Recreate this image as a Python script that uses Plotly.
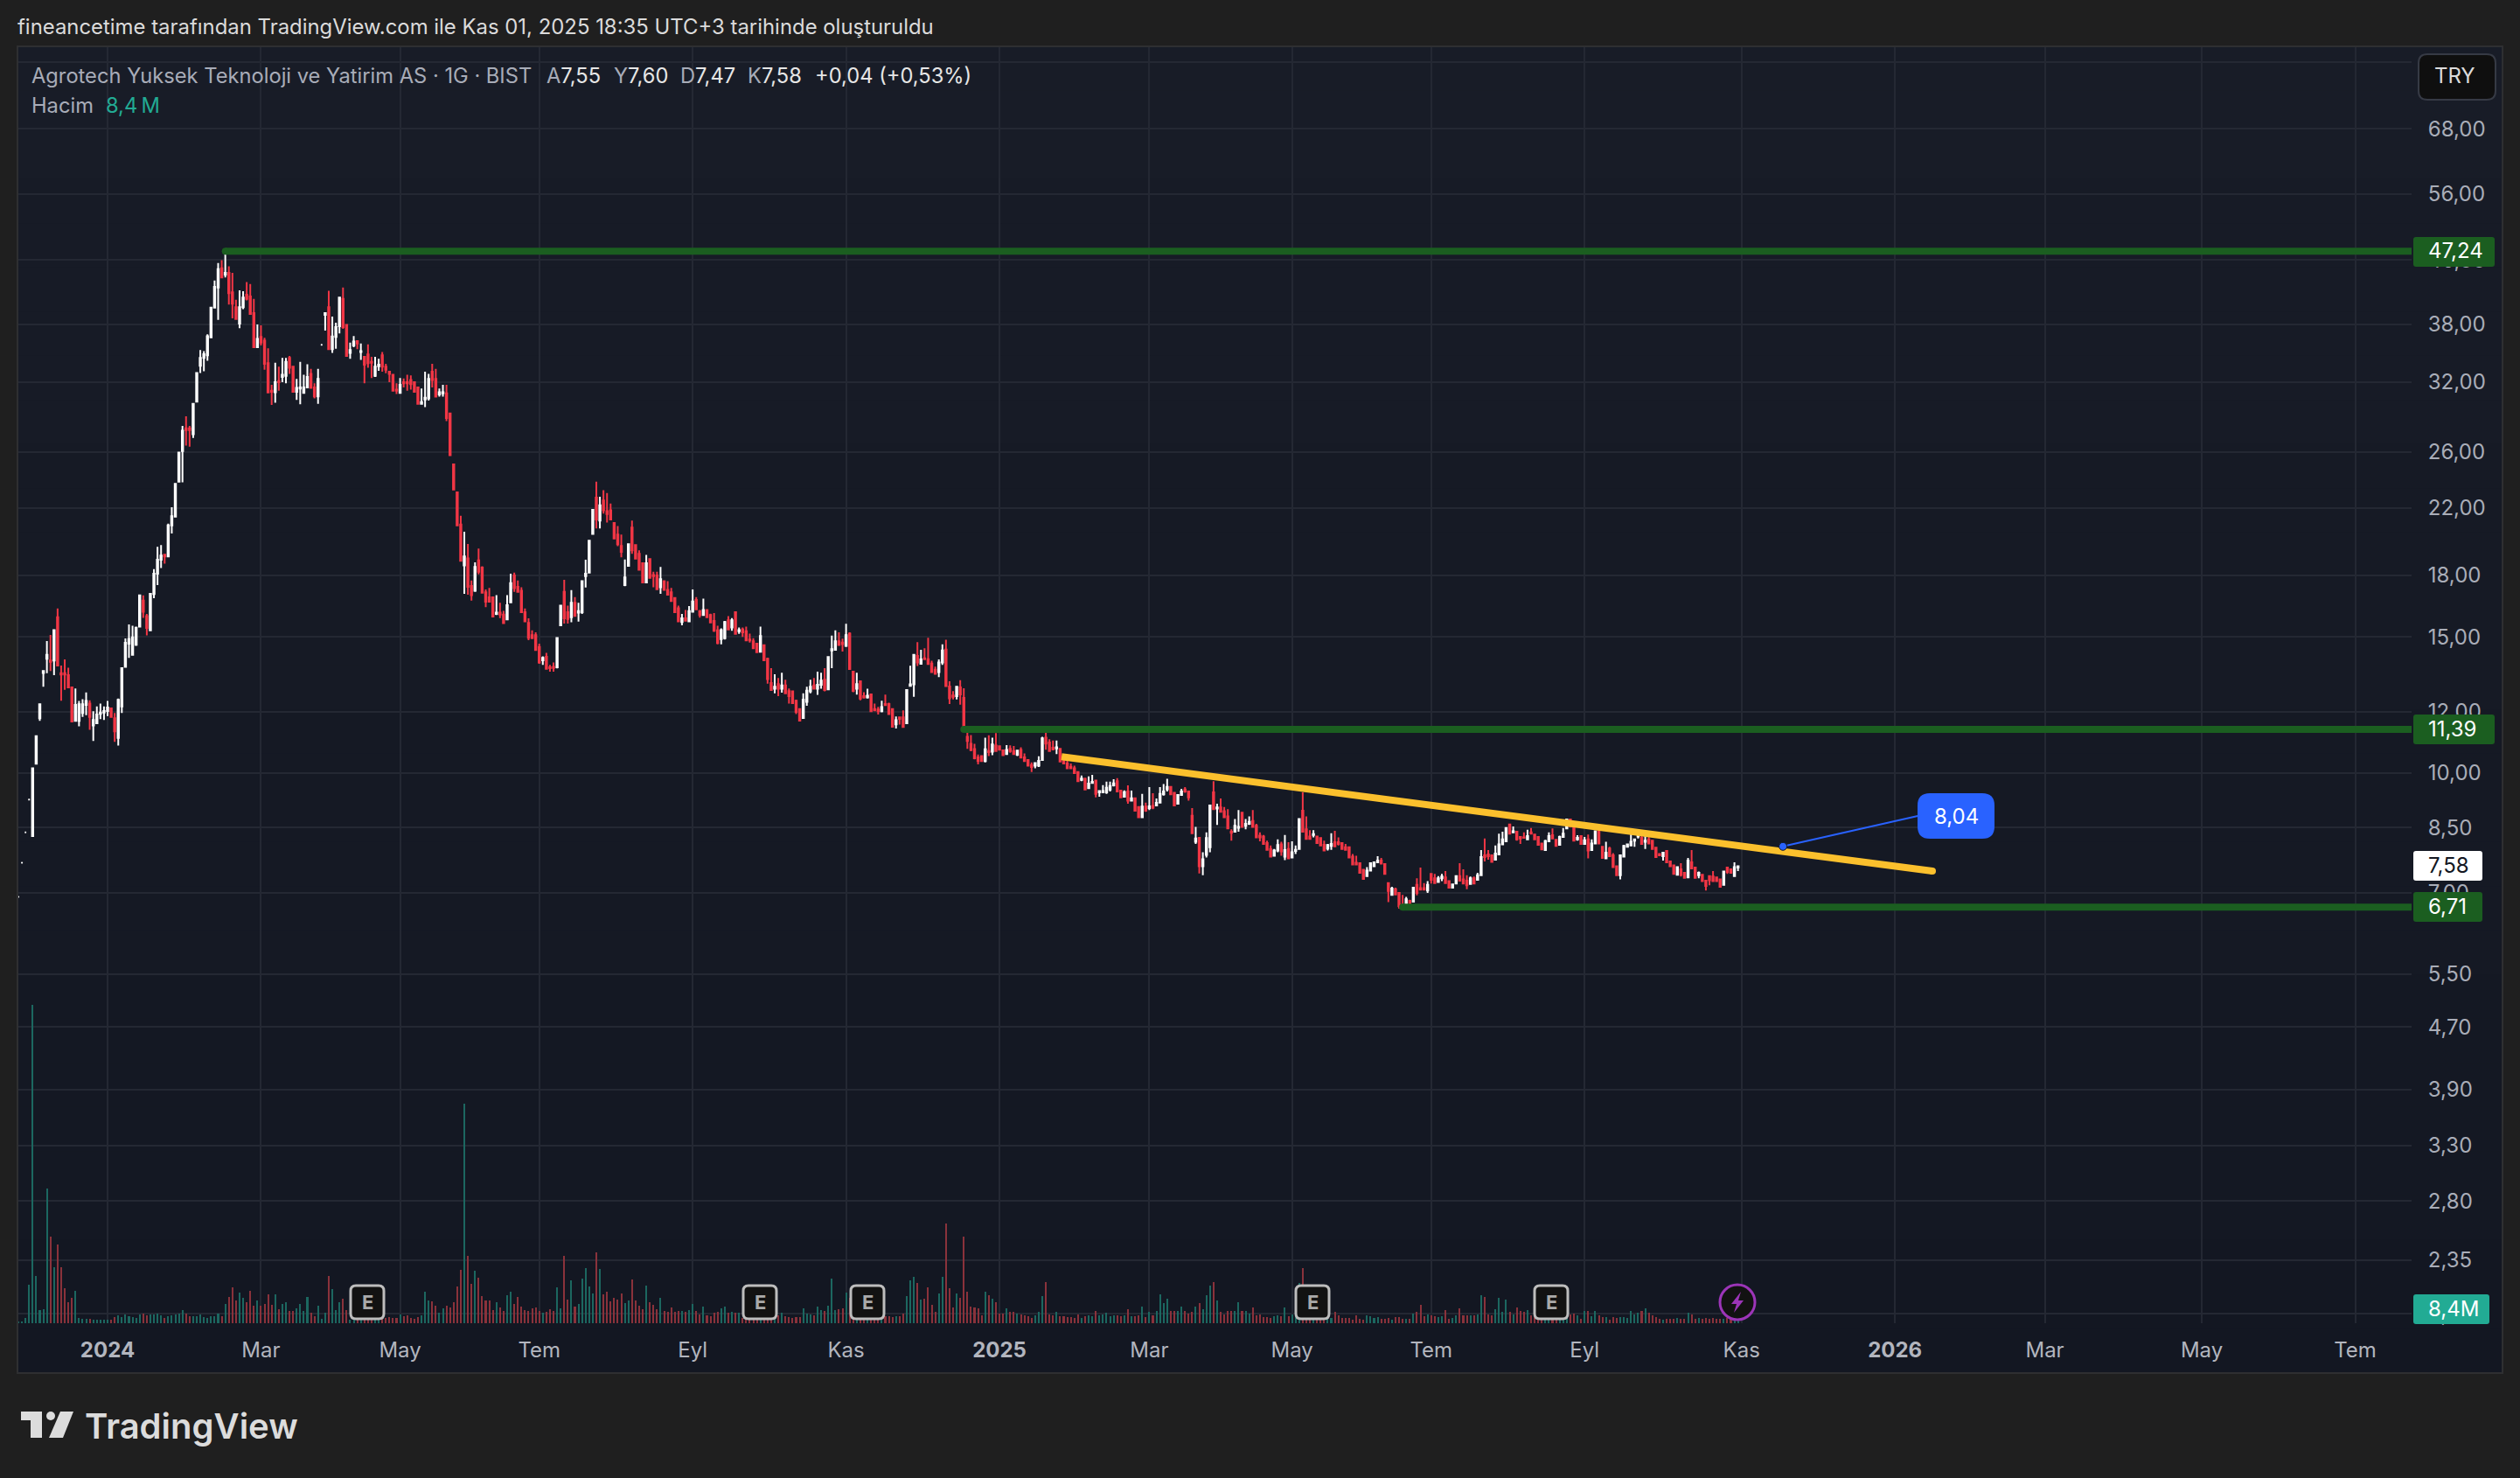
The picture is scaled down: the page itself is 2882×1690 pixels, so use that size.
import numpy as np
import plotly.graph_objs as go

# daily bars
open_p = [
    6.92,7.66,8.38,9.24,8.29,10.28,11.77,13.47,14.05,13.98,
    13.98,15.9,13.46,13.46,13.38,12.9,11.68,11.68,11.96,12.25,
    12.3,11.52,11.6,11.93,11.97,12.03,12.12,11.77,11.1,12.19,
    13.72,14.7,14.22,14.65,15.46,16.7,15.95,15.29,17.03,18.1,
    18.86,19.15,19.05,20.89,21.45,23.8,26.07,27.9,27.9,27.4,
    30.2,33.6,34.4,34.66,36.55,39.95,42.4,44.9,44.05,44.3,
    41.8,40,38.1,40,41.5,41.3,39.3,35.5,36.6,36.2,
    33.85,31.2,31.05,32.1,32.5,32.6,34.4,33.5,31.1,31.4,
    31,31.5,32.8,31.5,30.67,35.76,39.1,40,35.3,36.6,
    37.8,41,37.95,34.9,35.7,36.15,35,34.5,34.75,34,
    32.6,33.55,34.66,33.5,33,32.7,31.3,31,32,32,
    32.2,32,31.5,30,30.4,30.5,33,32.3,30.85,30.95,
    30.95,29.15,25.06,23.05,20.95,18.55,18.94,17.45,17.2,18.83,
    18.43,17.12,16.87,16.87,16.05,16.12,16.02,15.8,16.62,18,
    17.4,17.2,16.14,15.63,15.07,15.07,14.55,13.99,14.13,13.7,
    13.72,13.7,15.52,17.14,16.14,15.9,16.6,16.12,16.14,17.97,
    18.16,20.37,22.7,21.2,22.5,21.8,21.85,21.05,20.33,19.66,
    17.5,18.52,20.76,19.7,19.2,18.67,17.63,18.9,18.03,18,
    17.38,17.7,17.25,17.12,16.84,16.33,15.67,15.85,15.7,16.16,
    16.74,16.19,16,16.24,16,15.72,15.29,14.9,14.94,15.76,
    15.42,16.14,15.25,15.33,15.25,14.88,14.8,14.7,14.35,14.63,
    14.05,13.07,12.85,13.03,12.85,12.98,12.76,12.75,12.4,12.1,
    11.78,12.36,12.75,12.98,12.85,13,13.2,12.83,14.4,14.43,
    14.8,14.74,14.6,15.14,13.52,12.85,13.14,12.57,12.52,12.64,
    12.1,12.08,12.02,12.28,12.28,12.1,11.56,11.8,11.8,11.6,
    12.96,13.02,14.17,13.84,14.07,14.03,13.85,13.6,13.5,13.9,
    14.44,12.94,12.6,12.57,12.9,12.51,11.14,10.91,10.74,10.48,
    10.52,10.36,10.68,10.66,10.85,10.83,10.7,10.58,10.75,10.68,
    10.56,10.71,10.48,10.4,10.24,10.22,10.22,10.4,11.11,10.95,
    10.78,10.76,10.75,10.42,10.29,10.19,10.14,10.03,9.8,9.83,
    9.56,9.71,9.78,9.44,9.44,9.44,9.52,9.64,9.76,9.49,
    9.32,9.47,9.21,9.28,9.04,8.77,9.05,9.01,9.07,9.08,
    9.16,9.39,9.53,9.6,9.43,9.13,9.37,9.52,9.47,8.81,
    8.15,8.25,7.58,7.84,8.02,9.44,9,9.03,8.93,8.79,
    8.4,8.4,8.5,8.89,8.55,8.6,8.67,8.55,8.3,8.28,
    8.12,7.98,7.82,7.94,8.09,7.8,7.98,7.78,7.93,7.98,
    8.94,8.46,8.28,8.32,8.28,8.24,8.08,7.99,8.05,8.14,
    8.14,8.12,8.02,8.02,7.8,7.66,7.65,7.5,7.36,7.48,
    7.58,7.67,7.71,7.63,7.21,6.96,7.08,7,6.76,6.75,
    6.84,6.82,7.17,7.1,7.1,7.05,7.41,7.31,7.23,7.31,
    7.33,7.25,7.11,7.2,7.36,7.29,7.26,7.19,7.31,7.28,
    7.38,7.83,7.85,7.83,7.73,7.85,8.09,8.16,8.58,8.38,
    8.4,8.27,8.26,8.21,8.38,8.33,8.27,8.11,7.95,8.16,
    8.31,8.2,8.08,8.27,8.48,8.71,8.59,8.21,8.29,8.1,
    8.21,7.95,8.11,8.41,8.03,7.76,7.99,7.83,7.58,7.38,
    7.8,8.03,8.06,8.18,8.28,8.25,8.15,8.21,8.18,8.01,
    7.86,7.81,7.93,7.69,7.6,7.39,7.51,7.43,7.33,7.67,
    7.55,7.38,7.39,7.26,7.36,7.35,7.33,7.29,7.17,7.55,
    7.51,7.36,7.55,
]
high_p = [
    6.93,7.67,8.39,9.26,10.14,11.16,12.27,13.55,14.81,15.08,
    15.3,16.32,13.77,14.02,13.68,12.9,12.86,12.39,12.46,12.71,
    12.42,12.02,12.19,12.3,12.19,12.39,12.13,11.96,12.48,13.66,
    14.93,15.56,15.5,15.46,16.97,16.97,16.05,17.05,18.35,19.6,
    19.7,19.18,21,22.05,23.64,25.94,28.1,28.9,28.1,30,
    32.88,35.2,35.1,36.9,39.95,43.3,45.6,46,47.24,45.16,
    44.3,40.9,42.05,41.95,43.1,42.85,41,38,37.9,36.5,
    35.4,31.75,33.9,33.5,34.4,34.4,34.6,33.5,32.3,34,
    32.7,33.75,33.3,31.9,33.3,35.8,39.3,42,38.9,38.2,
    41.16,42.4,38,36,36.7,36.2,35.9,34.5,35.8,34.5,
    34.5,34.3,35,33.8,33.1,32.7,31.9,32.4,32.35,32.7,
    32.65,32,31.5,31.4,33,32.8,33.8,33.3,31.4,31.75,
    31.75,29.15,25.1,23.05,21.5,20.5,19.77,17.74,18.72,19.5,
    18.5,17.27,17.35,16.9,16.98,16.6,16.2,16.98,18.1,18.15,
    17.74,17.38,16.32,15.85,15.29,15.2,14.7,14.15,14.3,13.8,
    13.9,14.95,16.46,17.77,16.46,17.23,16.88,16.6,17.7,18.86,
    19.97,21.88,23.8,22.75,23.2,23,22.3,21.1,20.85,20.33,
    18.88,19.76,21.2,19.76,19.4,18.67,19.14,18.95,18.2,18.2,
    18.47,17.7,17.7,17.35,16.84,16.46,16.06,16.24,16.44,17.27,
    16.88,16.24,16.8,16.24,16.07,16.1,15.5,15.38,15.72,15.95,
    15.86,16.14,15.42,15.42,15.46,15.14,14.94,14.7,15.46,14.65,
    14.1,13.66,13.42,13.27,13.48,13.2,12.86,12.78,12.44,12.13,
    12.68,12.93,13.2,13.27,13.52,13.48,13.66,14.12,15.05,15.29,
    15.2,14.92,15.59,15.2,13.52,13.48,13.17,12.72,12.85,12.66,
    12.3,12.18,12.4,12.63,12.33,12.1,11.83,11.82,12.05,12.8,
    13.76,14.25,14.76,14.43,14.5,14.96,13.97,13.73,14.02,14.67,
    14.87,13.14,12.76,12.93,13.18,12.87,11.37,11.2,10.91,10.57,
    10.54,11.11,11.19,11.11,11.26,10.85,10.7,10.87,10.86,10.84,
    10.71,10.8,10.6,10.42,10.32,10.31,10.51,11.14,11.48,11.06,
    11.02,11.02,10.75,10.54,10.44,10.29,10.22,10.05,9.93,9.86,
    9.9,9.95,9.78,9.49,9.65,9.75,9.75,9.82,9.85,9.5,
    9.5,9.64,9.49,9.3,9.04,9.4,9.16,9.59,9.42,9.27,
    9.59,9.68,9.83,9.62,9.45,9.37,9.54,9.59,9.49,9.01,
    8.52,8.27,7.9,8.38,9.08,9.76,9.13,9.27,9.04,8.98,
    8.46,8.72,8.96,8.89,8.72,8.79,8.96,8.6,8.38,8.32,
    8.18,8.06,7.98,8.21,8.15,8.32,8.14,8.16,8.06,8.72,
    9.44,8.79,8.44,8.44,8.3,8.26,8.18,8.1,8.36,8.42,
    8.26,8.14,8.1,8.02,7.86,7.82,7.65,7.5,7.56,7.65,
    7.68,7.81,7.77,7.63,7.21,7.13,7.11,7,6.96,6.92,
    6.86,7.11,7.31,7.55,7.21,7.25,7.41,7.41,7.36,7.41,
    7.47,7.26,7.2,7.38,7.65,7.51,7.38,7.35,7.35,7.43,
    7.95,8.23,7.95,7.83,8.06,8.35,8.4,8.5,8.58,8.53,
    8.4,8.27,8.38,8.45,8.49,8.34,8.27,8.11,8.2,8.38,
    8.48,8.2,8.3,8.49,8.71,8.71,8.6,8.31,8.31,8.27,
    8.33,8.21,8.41,8.58,8.03,8.15,8.03,7.88,7.6,7.85,
    8.08,8.11,8.38,8.23,8.4,8.4,8.31,8.28,8.18,8.01,
    7.87,7.89,7.95,7.69,7.6,7.58,7.65,7.43,7.77,7.95,
    7.55,7.46,7.39,7.26,7.38,7.47,7.33,7.29,7.46,7.57,
    7.51,7.67,7.6,
]
low_p = [
    6.91,7.65,8.37,9.22,8.29,10.27,11.68,12.93,13.46,13.55,
    13.38,13.77,12.4,12.81,12.9,11.66,11.68,11.49,11.82,11.88,
    11.37,11,11.6,11.74,11.71,11.85,11.8,10.97,10.85,11.96,
    13.7,14.09,14.22,14.6,15.46,15.87,15.06,15.29,16.82,17.5,
    18.4,18.65,19.05,20.4,21.45,23.8,23.75,26.5,26.4,27.1,
    30.2,32.88,33.06,34.1,36.55,39.9,38.5,43.7,43.7,40.3,
    38.7,38.6,37.56,39.75,40.8,39.2,35.5,35.5,35.7,33.2,
    31,29.9,30.1,31.2,32,31.9,32.8,31.1,30.35,29.97,
    31,31.5,31.46,30.5,30,35.7,37.3,35.3,34.9,35.35,
    37,37.5,34.6,34.3,35.5,35.3,34.2,31.9,33.4,32.4,
    32.5,33.1,33,32.85,32,31.2,30.9,31,31.5,31.2,
    31.3,31.1,30,29.95,29.7,30.3,31.5,30.65,30.65,30.65,
    28.5,25.75,23.25,20.9,18.8,17.05,17,16.7,17.14,18.06,
    17.1,16.38,16.63,15.93,16,15.86,15.6,15.8,16.62,17.15,
    17.15,16.14,15.7,14.85,14.9,14.4,13.84,13.8,13.62,13.52,
    13.52,13.65,15.52,15.6,15.6,15.66,15.96,15.69,16.05,17.37,
    18.16,20.33,20.7,20.7,21.64,21.07,21.22,20.05,19.64,19,
    17.44,18.52,19.2,18.93,18.26,17.63,17.63,17.88,17.38,17.28,
    17.05,17.25,17,16.68,16.14,15.7,15.52,15.72,15.67,16.16,
    16.28,15.88,15.98,15.9,15.65,15.22,14.67,14.67,14.88,15.3,
    15.27,15.13,15.13,15,14.8,14.74,14.5,14.33,14.32,13.99,
    13.05,12.8,12.68,12.57,12.7,12.68,12.3,12.31,11.92,11.69,
    11.75,12.22,12.68,12.83,12.62,12.85,12.75,12.83,13.66,14.43,
    14.6,14.36,14.55,13.63,12.72,12.63,12.42,12.48,12.48,12.02,
    12.02,11.9,11.98,12.22,11.92,11.47,11.42,11.55,11.47,11.58,
    12.95,12.55,13.75,13.82,14,13.83,13.5,13.43,13.3,13.8,
    12.95,12.28,12.45,12.45,12.26,11.4,10.75,10.67,10.42,10.26,
    10.35,10.32,10.52,10.55,10.66,10.7,10.52,10.58,10.62,10.58,
    10.52,10.47,10.36,10.2,10.03,10.14,10.18,10.4,10.72,10.68,
    10.7,10.58,10.35,10.27,10.14,10.12,10,9.76,9.76,9.5,
    9.56,9.7,9.3,9.32,9.42,9.4,9.47,9.61,9.47,9.3,
    9.32,9.13,9.2,8.94,8.77,8.77,8.91,8.96,8.98,9.07,
    9.16,9.35,9.47,9.36,9.08,9.13,9.37,9.43,9.21,8.36,
    8.1,7.42,7.38,7.78,7.9,8.98,8.57,8.91,8.77,8.48,
    8.18,8.38,8.4,8.52,8.46,8.57,8.52,8.26,8.16,8.1,
    7.96,7.8,7.82,7.9,7.82,7.72,7.76,7.78,7.86,7.98,
    8.4,8.22,8.2,8.26,8.12,8.06,7.94,7.94,7.96,8.04,
    8.06,7.98,7.96,7.78,7.62,7.62,7.43,7.3,7.36,7.48,
    7.58,7.66,7.64,7.41,6.81,6.95,6.97,6.68,6.7,6.75,
    6.66,6.82,6.95,7.05,7.05,7,7.2,7.21,7.23,7.25,
    7.21,7.11,7.11,7.2,7.24,7.2,7.08,7.17,7.18,7.28,
    7.38,7.69,7.73,7.68,7.73,7.85,8.08,8.16,8.35,8.37,
    8.18,8.1,8.23,8.2,8.33,8.21,8.08,7.97,7.94,8.16,
    8.23,8.05,8.08,8.27,8.48,8.53,8.18,8.18,8.1,8.1,
    7.76,7.95,8.11,8.11,7.77,7.76,7.81,7.55,7.38,7.29,
    7.8,8.02,8.05,8.03,8.23,8.1,7.98,8.11,7.98,7.79,
    7.83,7.71,7.67,7.58,7.41,7.39,7.35,7.32,7.33,7.53,
    7.32,7.31,7.25,7.05,7.16,7.25,7.25,7.13,7.17,7.41,
    7.43,7.36,7.47,
]
close_p = [
    6.92,7.66,8.38,9.24,10.14,11.16,12.27,13.55,14.22,13.92,
    15.3,13.77,13.41,13.41,12.9,11.66,12.25,12.27,12.27,12.39,
    11.82,11.71,11.9,11.97,12.03,12.15,11.82,11.32,12.43,13.66,
    14.73,14.9,14.98,15.41,16.97,16.16,15.4,17.05,18.1,18.86,
    19.1,19.05,20.89,21.47,23.64,25.94,27.7,27.75,27.75,30,
    32.88,34.4,34.78,36.68,39.95,42.5,44.8,43.7,44.3,41.7,
    40.4,38.6,40,41.16,41,39.2,35.5,36.4,36,33.8,
    31.03,31.1,32,32,32.7,33.98,33.4,31.1,31.46,31.5,
    31.5,32.5,31.46,30.67,32.3,35.76,39.3,35.3,36.65,37.7,
    41.16,37.7,34.6,35.2,36.1,35.9,35.1,33.7,33.85,33.9,
    33.5,33.7,33.5,33.2,32.8,31.2,31.2,31.75,31.9,31.9,
    31.8,31.1,30,30.15,30.55,32.3,32.2,30.65,31.05,31.05,
    28.75,25.75,23.25,20.9,18.8,19.05,17.4,16.98,18.47,18.2,
    17.1,16.65,16.65,15.93,16.12,16.02,15.62,16.48,17.6,17.34,
    17.15,16.14,15.7,14.96,14.94,14.42,13.9,14.09,13.64,13.66,
    13.67,14.95,16.46,15.85,15.82,16.6,15.96,16.19,17.7,18.1,
    19.97,21.88,21.27,22.18,21.85,21.62,21.27,20.1,19.76,19.31,
    17.9,19.76,19.4,18.93,18.31,17.63,18.67,17.88,17.97,17.28,
    17.8,17.25,17,16.68,16.14,15.7,15.85,15.73,16.19,16.66,
    16.28,16,16.24,15.9,15.65,15.27,14.72,15.3,15.67,15.33,
    15.76,15.13,15.3,15.2,14.84,14.84,14.5,14.33,15.03,13.99,
    13.23,12.8,12.93,12.85,12.98,12.68,12.57,12.31,12,11.69,
    12.44,12.78,12.93,12.85,13,13.17,12.8,14.12,14.46,14.8,
    14.64,14.68,15.07,13.63,12.77,13.03,12.48,12.52,12.59,12.02,
    12.05,12.02,12.17,12.24,11.92,11.48,11.7,11.75,11.47,12.8,
    13.02,14.22,13.9,14.02,14.03,13.83,13.5,13.43,13.9,14.4,
    12.95,12.49,12.55,12.93,12.64,11.4,11,10.71,10.45,10.36,
    10.36,10.73,10.64,10.89,10.68,10.72,10.55,10.71,10.68,10.58,
    10.69,10.47,10.36,10.22,10.18,10.3,10.37,11.09,10.92,10.68,
    10.73,10.8,10.35,10.29,10.14,10.14,10,9.76,9.84,9.52,
    9.69,9.74,9.4,9.48,9.48,9.57,9.62,9.7,9.47,9.3,
    9.45,9.21,9.28,8.94,8.77,9.05,8.94,9.06,9.02,9.15,
    9.4,9.47,9.6,9.39,9.08,9.37,9.47,9.47,9.3,8.36,
    8.23,7.58,7.74,8.24,9.08,8.98,9.03,8.91,8.77,8.48,
    8.37,8.55,8.52,8.52,8.6,8.65,8.52,8.26,8.26,8.1,
    7.96,7.8,7.94,8.07,7.92,7.95,7.76,7.9,7.96,8.72,
    8.4,8.22,8.22,8.34,8.12,8.06,7.94,8.07,8.1,8.04,
    8.1,7.98,7.96,7.78,7.62,7.62,7.43,7.3,7.48,7.65,
    7.67,7.71,7.64,7.41,7.04,7.09,6.97,6.73,6.7,6.87,
    6.67,7.11,7,7.07,7.07,7.17,7.28,7.21,7.31,7.35,
    7.21,7.11,7.18,7.36,7.26,7.2,7.16,7.31,7.2,7.38,
    7.79,7.79,7.81,7.68,7.87,8.09,8.21,8.49,8.35,8.41,
    8.21,8.23,8.25,8.29,8.35,8.21,8.08,7.97,8.17,8.29,
    8.23,8.05,8.27,8.35,8.71,8.53,8.18,8.25,8.1,8.19,
    7.94,8.11,8.41,8.11,7.77,7.89,7.81,7.56,7.38,7.83,
    8.05,8.09,8.15,8.21,8.31,8.1,8.18,8.11,7.98,7.79,
    7.83,7.89,7.67,7.58,7.41,7.56,7.39,7.32,7.71,7.53,
    7.32,7.43,7.25,7.15,7.27,7.25,7.25,7.13,7.46,7.45,
    7.43,7.56,7.58,
]
# volume in millions
volume_m = [
    0.7,1,3,23,191,28.4,7.9,8.4,81,52,
    33.4,47,33.4,20.8,12.6,15.2,19.4,3.2,2.6,2.6,
    2.6,2.1,2.1,2.1,2.1,2.1,2.1,3.7,4.7,3.7,
    5.3,4.2,3.7,3.2,5.3,5.8,4.7,5.3,5.3,5.8,
    4.7,3.2,4.2,4.7,5.3,5.8,7.9,5.8,4.2,4.2,
    4.2,5.3,3.7,3.2,4.2,4.2,5.8,4.2,11.6,15.8,
    21.5,13.7,18.4,15.2,12.6,19.4,10.5,13.7,10.5,11.6,
    17.3,11,17.3,8.4,11.6,12.6,7.4,7.4,8.9,11.6,
    7.4,15.8,6.3,4.2,10.5,2.6,6.3,28.4,20.5,7.9,
    12.6,14.7,8,2.2,2.2,2,2,2.4,2.4,2.2,
    2.2,2.2,2.6,3,3.7,3.2,3.2,5.3,4.2,4.7,
    3.2,2.6,3.7,4.7,18.9,13.7,13.1,10.5,6.3,8.9,
    10.5,9.5,12.6,22,32,132,40.4,23.6,31.5,27.3,
    16.3,13.7,13.7,7.9,12.6,9.5,7.4,16.8,18.9,11.6,
    15.8,10,7.9,7.4,8.9,9.5,7.4,6.3,6.8,8.4,
    7.4,21.5,8.9,40.4,14.2,25.7,10,11.6,26.8,33,
    22,17.9,42.5,32.5,17.3,18.9,13.1,15.2,14.2,17.9,
    12,13.7,26.3,13.7,10.5,8.4,22.6,12.6,11,8.4,
    15.2,7.4,6.8,9.5,6.8,7.4,7.4,6.8,7.9,11.6,
    7.4,5.3,10,4.7,4.2,6.3,6.8,8.9,10,6.3,
    6.8,6.3,6.3,3.3,3,2.6,2.4,2.4,3,2.6,
    4,3,2.4,4.7,6.3,4.2,3.7,3.2,3.7,3.7,
    8.9,5.8,5.3,4.7,10,7.9,7.4,10.5,26.8,7.9,
    8.4,8.9,18.4,15.2,5,2.6,3,2.2,2.2,3,
    2.2,2.4,2.4,4,4.2,3.7,4.2,4.2,5.8,16.3,
    25.7,27.8,24.2,14,14.9,21.4,11,7,17.6,27.7,
    60,21,9.5,18,15.3,52,18.9,10,9.6,8.8,
    4.9,19,17,14.5,12.8,6,6,8.8,6.6,6.6,
    5.8,5.2,4.5,4,3.2,4.5,7,16.3,24.5,5.2,
    4.9,6.6,4,4,3.7,3.7,3.2,5.2,3.2,4,
    4.5,4,7.2,4.9,5.2,6.3,4,4.9,4.5,4,
    4.9,8.2,4,4,4.5,9.8,3.7,6.6,4.9,7.5,
    17.5,11.9,14.5,7.5,7.5,7.5,10,7.5,5.8,7,
    10,11.9,8.4,16.8,22.8,24.5,13.7,6.6,5.2,7.5,
    7.2,7.2,12.6,7.5,7.5,5.8,9.5,4.9,5.2,3.9,
    3.5,3.2,4,4.5,4,9.3,4,5.2,4.9,24,
    33,8,5,3,3,3,3,3,3,6.6,
    4.5,3.2,3.2,3.2,2.3,4.5,2.6,2.1,4.5,4.4,
    3.2,3.5,2.8,2.6,3.2,2.3,3.5,3.5,2.8,2.8,
    2.8,5.6,7,10.9,4,5.4,4.5,4,3.5,4,
    8,2.8,3.2,4.9,8.8,4.5,4.5,4.5,4.9,5.2,
    16.8,15.8,5.2,4.5,8.4,15.4,7,14,7,5.2,
    9.3,7.5,6.6,8,4.9,5.2,4.5,3,3,3,
    3,3,3,3,3,5,5.8,4.5,2.6,7.2,
    7.2,4,7.2,4.5,3.5,3.5,2.3,3.5,3.2,3.5,
    3.5,3.2,7.5,5.2,6.3,7.2,8.8,6.3,4.5,3.5,
    2.8,2.3,2.8,2.8,2.6,3.2,2.8,2.8,6.3,5.2,
    2.8,3.2,2.8,3.2,2.8,3.2,2.4,2.8,2.8,3,
    3,3,8.4,
]
assert len(open_p) == len(high_p) == len(low_p) == len(close_p) == len(volume_m)
bars = list(range(len(close_p)))

# axes
x_ticks = [25, 68, 107, 146, 189, 232, 275, 317, 357, 396, 439, 483, 526, 568, 612, 655]
x_labels = ["<b>2024</b>", "Mar", "May", "Tem", "Eyl", "Kas", "<b>2025</b>", "Mar", "May",
            "Tem", "Eyl", "Kas", "<b>2026</b>", "Mar", "May", "Tem"]
y_ticks = [83, 68, 56, 46, 38, 32, 26, 22, 18, 15, 12, 10, 8.5, 7, 5.5, 4.7, 3.9, 3.3, 2.8, 2.35, 2]
y_labels = ["", "68,00", "56,00", "46,00", "38,00", "32,00", "26,00", "22,00", "18,00", "15,00", "12,00",
            "10,00", "8,50", "7,00", "5,50", "4,70", "3,90", "3,30", "2,80", "2,35", "2,00"]

# drawn levels: value, first bar
levels = [47.24, 11.39, 6.71]
level_start = [58, 265, 388]
level_labels = ["47,24", "11,39", "6,71"]
trend_bars = [292.4, 536.5]
trend_vals = [10.5, 7.47]
callout_bars = [494.6, 532.4]
callout_vals = [8.04, 8.8]

X_END = 670.8
L, R, T, B = 21, 2758, 53, 1513
BG_TOP, BG_BOT = (24, 28, 39), (19, 23, 34)
GREEN = "#1b5e20"


def px(x):
    return (x - L) / (R - L)


def py(y):
    return (B - y) / (B - T)


def rbox(x0, y0, x1, y1, r, fill, line=None, width=0):
    # rounded rectangle given in page pixels
    p = (f"M {px(x0 + r)} {py(y0)} L {px(x1 - r)} {py(y0)} Q {px(x1)} {py(y0)} {px(x1)} {py(y0 + r)} "
         f"L {px(x1)} {py(y1 - r)} Q {px(x1)} {py(y1)} {px(x1 - r)} {py(y1)} "
         f"L {px(x0 + r)} {py(y1)} Q {px(x0)} {py(y1)} {px(x0)} {py(y1 - r)} "
         f"L {px(x0)} {py(y0 + r)} Q {px(x0)} {py(y0)} {px(x0 + r)} {py(y0)} Z")
    return dict(type="path", path=p, xref="paper", yref="paper", fillcolor=fill,
                line=dict(color=line or fill, width=width), layer="above")


def poly(points, fill, line=None, width=0):
    p = "M " + " L ".join(f"{px(a)} {py(b)}" for a, b in points) + " Z"
    return dict(type="path", path=p, xref="paper", yref="paper", fillcolor=fill,
                line=dict(color=line or fill, width=width), layer="above")


def circle(cx, cy, r, fill, line=None, width=0):
    return dict(type="circle", xref="paper", yref="paper", x0=px(cx - r), x1=px(cx + r),
                y0=py(cy + r), y1=py(cy - r), fillcolor=fill,
                line=dict(color=line or fill, width=width), layer="above")


def text(x, y, s, size=24, color="#b2b5be", anchor="left", weight=None):
    font = dict(family="Inter", size=size, color=color)
    if weight:
        font["weight"] = weight
    return dict(x=px(x), y=py(y), xref="paper", yref="paper", text=s, showarrow=False,
                xanchor=anchor, yanchor="middle", font=font)


fig = go.Figure()

up = "#1c6760"
down = "#8a323b"
vol_colors = [up if c >= o else down for o, c in zip(open_p, close_p)]
fig.add_trace(go.Bar(x=bars, y=volume_m, yaxis="y2", width=0.5, marker=dict(color=vol_colors, line_width=0),
                     hoverinfo="skip"))

fig.add_trace(go.Candlestick(
    x=bars, open=open_p, high=high_p, low=low_p, close=close_p,
    increasing=dict(line=dict(color="#ffffff", width=2), fillcolor="#ffffff"),
    decreasing=dict(line=dict(color="#f23645", width=2), fillcolor="#f23645"),
    whiskerwidth=0,
))

for value, start in zip(levels, level_start):
    fig.add_trace(go.Scatter(x=[start, X_END + 1], y=[value, value], mode="lines",
                             line=dict(color=GREEN, width=8), hoverinfo="skip"))
    fig.add_trace(go.Scatter(x=[start], y=[value], mode="markers",
                             marker=dict(color=GREEN, size=8, line_width=0), hoverinfo="skip"))

fig.add_trace(go.Scatter(x=trend_bars, y=trend_vals, mode="lines", line=dict(color="#fbc02d", width=8),
                         hoverinfo="skip"))
fig.add_trace(go.Scatter(x=trend_bars[1:], y=trend_vals[1:], mode="markers",
                         marker=dict(color="#fbc02d", size=8, line_width=0), hoverinfo="skip"))
fig.add_trace(go.Scatter(x=callout_bars, y=callout_vals, mode="lines", line=dict(color="#2962ff", width=2),
                         hoverinfo="skip"))
fig.add_trace(go.Scatter(x=callout_bars[:1], y=callout_vals[:1], mode="markers",
                         marker=dict(color="#2962ff", size=9, line=dict(color="#131722", width=1)),
                         hoverinfo="skip"))

# pane background as thin bands, TradingView has a soft vertical gradient
shapes = []
n_bands = 30
for k in range(n_bands):
    t = k / (n_bands - 1)
    c = [round(a + (b - a) * t) for a, b in zip(BG_TOP, BG_BOT)]
    y0 = 53 + (1569 - 53) * k / n_bands
    y1 = 53 + (1569 - 53) * (k + 1) / n_bands + 1
    shapes.append(dict(type="rect", xref="paper", yref="paper", x0=px(21), x1=px(2861), y0=py(y1), y1=py(y0),
                       fillcolor=f"rgb({c[0]},{c[1]},{c[2]})", line_width=0, layer="below"))
shapes.append(dict(type="rect", xref="paper", yref="paper", x0=px(20), x1=px(2862), y0=py(1570), y1=py(53),
                   fillcolor="rgba(0,0,0,0)", line=dict(color="#2e2f31", width=2), layer="above"))

notes = [
    text(18, 31, "fineancetime tarafından TradingView.com ile Kas 01, 2025 18:35 UTC+3 tarihinde oluşturuldu",
         size=23.9, color="#dbdbdb"),
    text(34, 86, "Agrotech Yuksek Teknoloji ve Yatirim AS · 1G · BIST", size=23.7, color="#a8acb8"),
    text(34, 120, "Hacim", size=23.7, color="#a8acb8"),
    text(119, 120, "8,4\u2009M", size=23.7, color="#22ab94"),
]
for x, head, val in [(623, "A", "7,55"), (700, "Y", "7,60"), (776, "D", "7,47"), (853, "K", "7,58")]:
    notes.append(text(x, 86, f'{head}<span style="color:#e6e6e6">{val}</span>', size=23.7, color="#a8acb8"))
notes.append(text(930, 86, "+0,04 (+0,53%)", size=23.7, color="#e6e6e6"))

# TRY button
shapes.append(rbox(2766, 62, 2854, 114, 10, "#0f0f0f", "#363a45", 2))
notes.append(text(2807, 87, "TRY", color="#dbdbdb", anchor="center"))

# price labels on the right scale
for y0, y1, x1, fill, s, col in [
    (271, 305, 2853, GREEN, level_labels[0], "#ffffff"),
    (817, 851, 2853, GREEN, level_labels[1], "#ffffff"),
    (973, 1007, 2839, "#ffffff", "7,58", "#131722"),
    (1020, 1054, 2839, GREEN, level_labels[2], "#ffffff"),
    (1480, 1514, 2847, "#22ab94", "8,4M", "#ffffff"),
]:
    shapes.append(rbox(2760, y0, x1, y1, 3, fill))
    notes.append(text(2775, (y0 + y1) / 2 - 1, s, color=col))

# callout box
shapes.append(rbox(2193, 907, 2281, 959, 14, "#2962ff"))
notes.append(text(2237, 933, "8,04", color="#ffffff", anchor="center"))

# earnings badges
for cx in [420, 869, 992, 1501, 1774]:
    shapes.append(rbox(cx - 19, 1470, cx + 19, 1508, 6, "#121212", "#bdbdbd", 3))
    notes.append(text(cx, 1489, "E", size=22, color="#a9a9a9", anchor="center", weight=700))

# dividend style bolt badge
shapes.append(circle(1987, 1489, 20, "#121212", "#9c35b8", 3))
shapes.append(poly([(1991, 1477), (1980, 1491), (1986, 1491), (1983, 1501), (1994, 1487), (1988, 1487)], "#9c35b8"))

# footer logo
shapes.append(poly([(24, 1614), (48, 1614), (48, 1644), (35, 1644), (35, 1624), (24, 1624)], "#dcdcdc"))
shapes.append(circle(58, 1619, 5, "#dcdcdc"))
shapes.append(poly([(69, 1614), (84, 1614), (72, 1644), (56, 1644)], "#dcdcdc"))
notes.append(text(95, 1630, "TradingView", size=40, color="#dcdcdc", weight=600))

fig.update_layout(
    width=2882, height=1690,
    margin=dict(l=L, r=2882 - R, t=T, b=1690 - B, pad=0),
    paper_bgcolor="#1f1f1f", plot_bgcolor="rgba(0,0,0,0)",
    showlegend=False, boxgap=0.5, bargap=0,
    font=dict(family="Inter", size=24, color="#b2b5be"),
    shapes=shapes, annotations=notes,
    xaxis=dict(range=[0, X_END], rangeslider_visible=False, tickmode="array", tickvals=x_ticks, ticktext=x_labels,
               showgrid=True, gridcolor="#242833", gridwidth=2, zeroline=False, showline=False,
               ticks="outside", ticklen=9, tickcolor="rgba(0,0,0,0)", tickfont=dict(size=24, color="#b2b5be")),
    yaxis=dict(type="log", range=[np.log10(1.946), np.log10(86.9)], side="right", tickmode="array",
               tickvals=y_ticks, ticktext=y_labels, showgrid=True, gridcolor="#242833", gridwidth=2,
               zeroline=False, showline=False, ticks="outside", ticklen=13, tickcolor="rgba(0,0,0,0)",
               tickfont=dict(size=24, color="#a9adb8")),
    yaxis2=dict(overlaying="y", range=[0, 766.5], visible=False, showgrid=False),
)

fig.write_html("out.html", config={"displayModeBar": False},
               post_script="document.body.style.margin='0';document.body.style.background='#1f1f1f';")
